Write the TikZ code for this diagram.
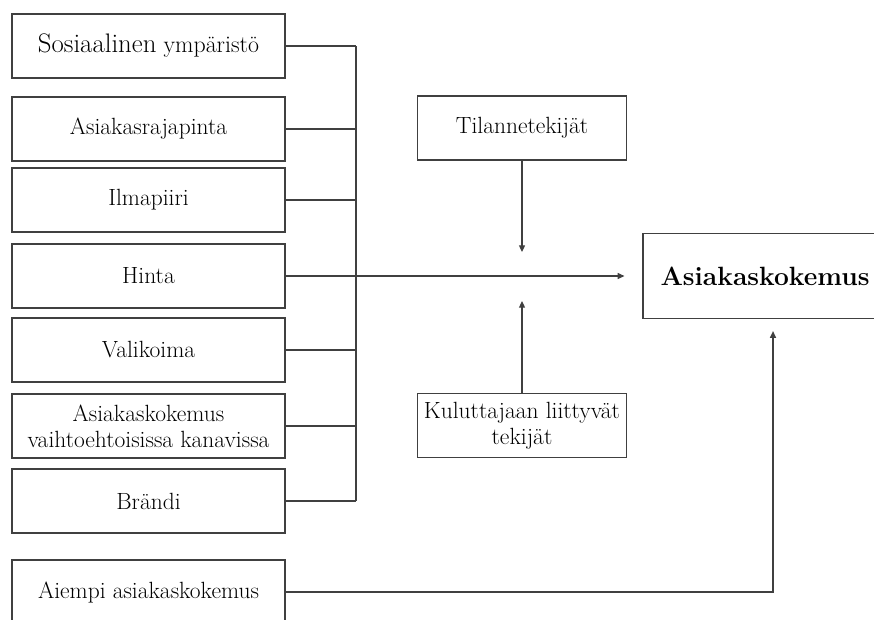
\documentclass[tikz,border=0pt]{standalone}
\usetikzlibrary{arrows.meta}
\begin{document}
\begin{tikzpicture}[
    x=0.75pt, y=-0.75pt,
    factor/.style={draw=black!75, line width=0.9pt, inner sep=0pt, minimum width=204.75pt, minimum height=48pt, align=center, font=\fontsize{17.6}{19.5}\selectfont},
    side/.style={factor, minimum width=156.75pt},
    result/.style={factor, minimum width=183pt, minimum height=63.75pt, font=\fontsize{19.8}{22}\selectfont\bfseries},
    link/.style={draw=black!75, line width=0.9pt},
    arrow/.style={link, -{Triangle[length=5pt, width=4.5pt]}}
]
    \useasboundingbox (0,0) rectangle (874,619);

    \node[factor] (social) at (148.5,46) {{\fontsize{20.1}{22}\selectfont Sosiaalinen} {\fontsize{17.9}{22}\selectfont ympäristö}};
    \node[factor] (interface) at (148.5,129) {Asiakasrajapinta};
    \node[factor] (atmosphere) at (148.5,200) {Ilmapiiri};
    \node[factor] (price) at (148.5,276) {Hinta};
    \node[factor] (assortment) at (148.5,350) {Valikoima};
    \node[factor] (channels) at (148.5,426) {Asiakaskokemus\\vaihtoehtoisissa kanavissa};
    \node[factor] (brand) at (148.5,501) {Brändi};
    \node[factor] (previous) at (148.5,592) {Aiempi asiakaskokemus};
    \node[side] (situation) at (522,128) {Tilannetekijät};
    \node[side] (consumer) at (522,425.5) {Kuluttajaan liittyvät\\tekijät};
    \node[result] (experience) at (765,276) {Asiakaskokemus};
    \coordinate (bus) at (356,276);
    \coordinate (meet) at (522,276);

    \foreach \n in {social,interface,atmosphere,assortment,channels,brand}
        \draw[link] (\n.east) -- (\n.east -| bus);
    \draw[link] (social.east -| bus) -- (brand.east -| bus);
    \draw[arrow, shorten >=13.5pt] (price.east) -- (experience.west);
    \draw[arrow, shorten >=18pt] (situation.south) -- (meet);
    \draw[arrow, shorten >=18.75pt] (consumer.north) -- (meet);
    \draw[arrow, shorten >=9pt] (previous.east) -| ([xshift=6pt]experience.south);
\end{tikzpicture}
\end{document}
